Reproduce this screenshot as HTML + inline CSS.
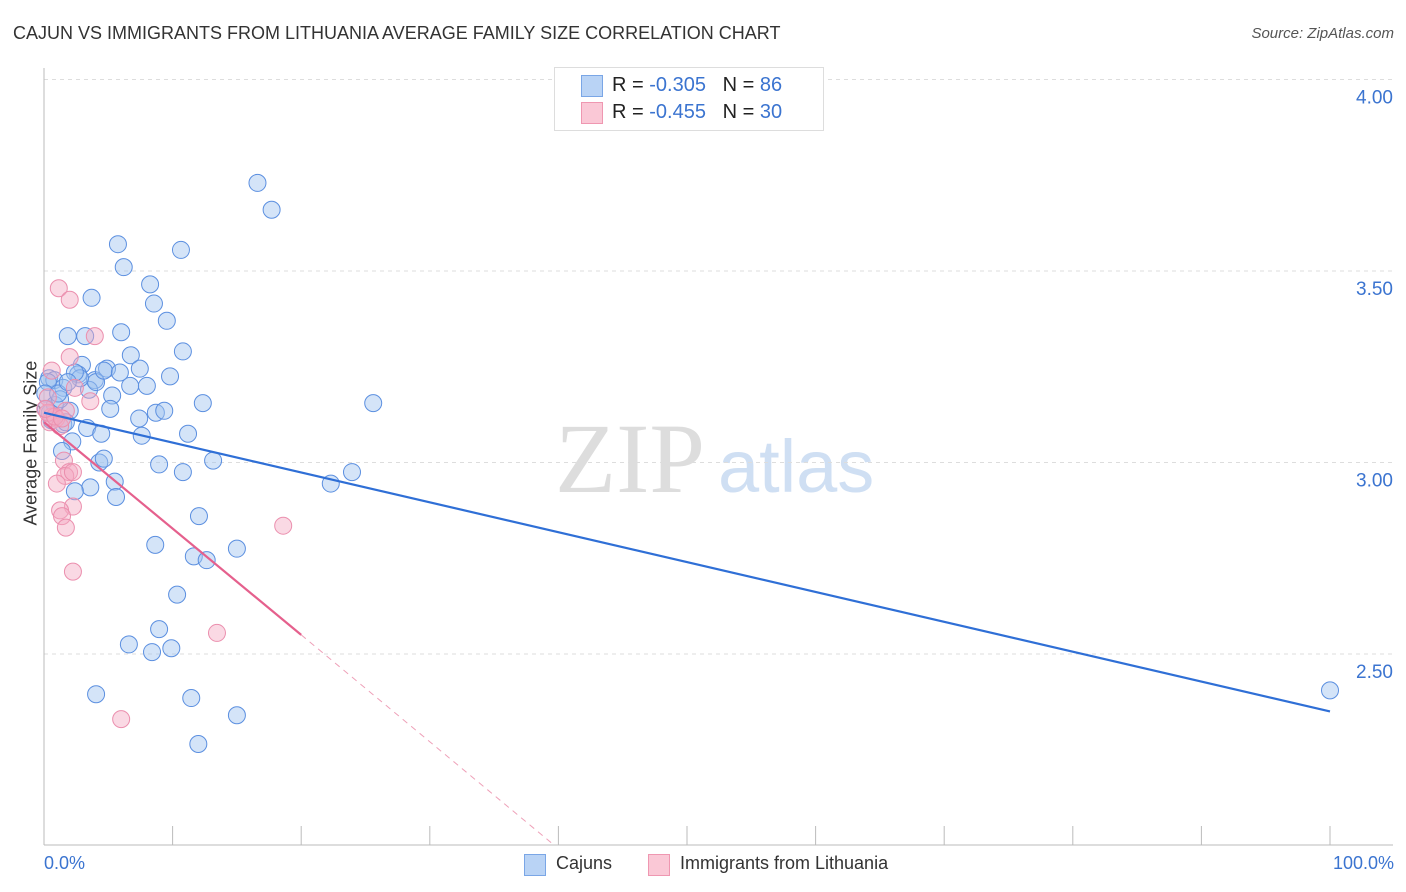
<!DOCTYPE html>
<html><head><meta charset="utf-8"><style>
body{margin:0;background:#fff;font-family:"Liberation Sans",sans-serif;}
#wrap{position:relative;width:1406px;height:892px;overflow:hidden;}
.t{position:absolute;white-space:nowrap;}
</style></head><body>
<div id="wrap">
<div class="t" style="left:13px;top:23px;font-size:18px;color:#333;">CAJUN VS IMMIGRANTS FROM LITHUANIA AVERAGE FAMILY SIZE CORRELATION CHART</div>
<div class="t" style="right:12px;top:25px;font-size:15px;color:#555;font-style:italic;">Source: ZipAtlas.com</div>
<div class="t" style="left:-39px;top:445px;font-size:18px;color:#333;transform:rotate(-90deg);transform-origin:center;width:140px;text-align:center;">Average Family Size</div>
<svg id="plot" width="1406" height="892" style="position:absolute;left:0;top:0">
<text x="555" y="492" font-family="Liberation Serif" font-size="100" fill="#ddd">ZIP</text>
<text x="718" y="492" font-family="Liberation Sans" font-size="74" fill="#cfdff3">atlas</text>
<g id="grid"></g><g id="pts"></g><g id="lines"></g>
</svg>
<div style="position:absolute;left:554px;top:67px;width:268px;height:62px;border:1px solid #ddd;background:#fff;"></div>
<div style="position:absolute;left:581px;top:75px;width:20px;height:20px;background:#b9d3f5;border:1px solid #7aa6e6;"></div>
<div style="position:absolute;left:581px;top:102px;width:20px;height:20px;background:#fac8d6;border:1px solid #ef97b1;"></div>
<div class="t" style="left:612px;top:74px;font-size:20px;color:#222;">R = <span style="color:#3b74d0">-0.305</span>&nbsp;&nbsp;&nbsp;N = <span style="color:#3b74d0">86</span></div>
<div class="t" style="left:612px;top:101px;font-size:20px;color:#222;">R = <span style="color:#3b74d0">-0.455</span>&nbsp;&nbsp;&nbsp;N = <span style="color:#3b74d0">30</span></div>
<div class="t" style="left:44px;top:853px;font-size:18px;color:#3b74d0;">0.0%</div>
<div class="t" style="right:12px;top:853px;font-size:18px;color:#3b74d0;">100.0%</div>
<div style="position:absolute;left:524px;top:854px;width:20px;height:20px;background:#b9d3f5;border:1px solid #7aa6e6;"></div>
<div class="t" style="left:556px;top:853px;font-size:18px;color:#333;">Cajuns</div>
<div style="position:absolute;left:648px;top:854px;width:20px;height:20px;background:#fac8d6;border:1px solid #ef97b1;"></div>
<div class="t" style="left:680px;top:853px;font-size:18px;color:#333;">Immigrants from Lithuania</div>
</div>
<script>
const yTicks=[4.0,3.5,3.0,2.5];
const yTickLabels=["4.00","3.50","3.00","2.50"];
const xTicks=[0,10,20,30,40,50,60,70,80,90,100];
const cajunX=[16.6,17.7,5.75,10.65,6.2,8.25,3.7,8.55,9.55,1.85,3.2,6.0,10.8,6.75,2.95,4.9,7.45,0.4,0.8,2.65,3.95,6.7,8.0,9.8,1.5,3.5,5.3,4.05,4.65,12.35,25.6,2.0,5.15,7.4,8.7,9.35,0.45,1.5,3.35,4.45,7.6,11.2,2.2,13.15,8.95,4.3,4.65,10.8,23.95,22.3,1.4,5.5,3.6,2.4,5.6,12.05,8.65,15.0,11.65,12.65,10.35,8.95,6.6,9.9,8.4,4.05,11.45,15.0,12.0,100,0.3,0.1,0.85,1.25,0.6,0.15,1.7,1.1,2.8,5.9,2.4,1.85];
const cajunY=[3.73,3.66,3.57,3.555,3.51,3.465,3.43,3.415,3.37,3.33,3.33,3.34,3.29,3.28,3.255,3.245,3.245,3.22,3.215,3.23,3.215,3.2,3.2,3.225,3.195,3.19,3.175,3.21,3.24,3.155,3.155,3.135,3.14,3.115,3.13,3.135,3.13,3.1,3.09,3.075,3.07,3.075,3.055,3.005,2.995,3.0,3.01,2.975,2.975,2.945,3.03,2.95,2.935,2.925,2.91,2.86,2.785,2.775,2.755,2.745,2.655,2.565,2.525,2.515,2.505,2.395,2.385,2.34,2.265,2.405,3.21,3.18,3.15,3.165,3.11,3.14,3.105,3.18,3.22,3.235,3.235,3.21];
const lithX=[1.15,2.0,3.95,2.0,0.6,2.4,0.3,3.6,1.7,0.6,0.95,0.45,1.25,1.55,1.95,1.65,2.25,1.0,2.25,1.25,1.4,1.7,2.25,18.6,13.45,6.0,0.3,0.85,1.4,0.1];
const lithY=[3.455,3.425,3.33,3.275,3.24,3.195,3.17,3.16,3.135,3.12,3.115,3.105,3.095,3.005,2.975,2.965,2.975,2.945,2.885,2.875,2.86,2.83,2.715,2.835,2.555,2.33,3.13,3.12,3.115,3.14];
const cajunTrend=[[0,3.13],[100,2.35]];
const lithTrend=[[0,3.105],[20,2.55]];
const lithTrendExt=[[20,2.55],[39.7,2.0]];
const NS="http://www.w3.org/2000/svg";
const xs=v=>44+v*12.86, ys=v=>79.5+(4-v)*383;
function mk(tag,attrs,parent){const e=document.createElementNS(NS,tag);for(const k in attrs)e.setAttribute(k,attrs[k]);document.getElementById(parent).appendChild(e);return e;}
yTicks.forEach((t,i)=>{
 const l=mk('line',{x1:44,x2:1393,y1:ys(t),y2:ys(t),stroke:'#ddd','stroke-dasharray':'4,4'},'grid');
 
 
 const tx=mk('text',{x:1393,y:ys(t)+24,'text-anchor':'end','font-size':19,fill:'#3b74d0','font-family':'Liberation Sans'},'grid');
 tx.textContent=yTickLabels[i];
 
 
});
const ax=mk('line',{x1:44,x2:44,y1:68,y2:845,stroke:'#bbb'},'grid');


const bx=mk('line',{x1:44,x2:1393,y1:845,y2:845,stroke:'#bbb'},'grid');


xTicks.forEach(t=>{
 const l=mk('line',{x1:xs(t),x2:xs(t),y1:826,y2:845,stroke:'#bbb'},'grid');
 
 
});
cajunX.forEach((x,i)=>{
 const c=mk('circle',{cx:xs(x),cy:ys(cajunY[i]),r:8.5,fill:'rgba(160,195,240,0.45)',stroke:'#5b8fe0','stroke-width':1},'pts');
 
 
});
lithX.forEach((x,i)=>{
 const c=mk('circle',{cx:xs(x),cy:ys(lithY[i]),r:8.5,fill:'rgba(245,170,195,0.45)',stroke:'#eb8fae','stroke-width':1},'pts');
 
 
});
const l1=mk('line',{x1:xs(cajunTrend[0][0]),y1:ys(cajunTrend[0][1]),x2:xs(cajunTrend[1][0]),y2:ys(cajunTrend[1][1]),stroke:'#2f6fd6','stroke-width':2.2},'lines');


const l2=mk('line',{x1:xs(lithTrend[0][0]),y1:ys(lithTrend[0][1]),x2:xs(lithTrend[1][0]),y2:ys(lithTrend[1][1]),stroke:'#e5608d','stroke-width':2.2},'lines');


const l3=mk('line',{x1:xs(lithTrendExt[0][0]),y1:ys(lithTrendExt[0][1]),x2:xs(lithTrendExt[1][0]),y2:ys(lithTrendExt[1][1]),stroke:'#eea0b8','stroke-width':1,'stroke-dasharray':'6,5'},'lines');


</script>
</body></html>
